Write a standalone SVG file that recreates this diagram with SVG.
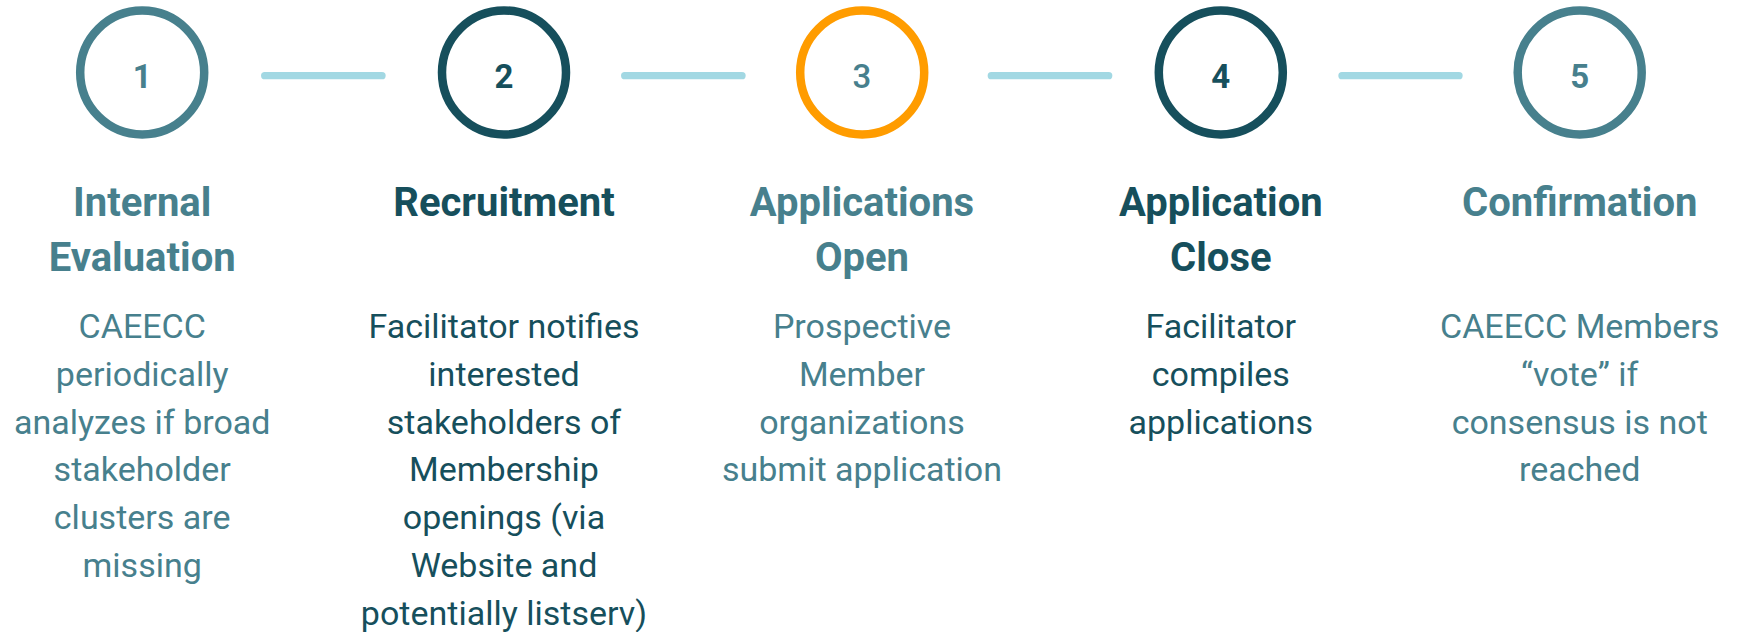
<svg xmlns="http://www.w3.org/2000/svg" width="1740" height="632" viewBox="0 0 1740 632">
<style>
.ring{fill:none;stroke-width:8.5}
.teal{fill:#47808D}
.dark{fill:#164F5C}
.num{font-family:Roboto,"Liberation Sans",sans-serif;font-weight:700;font-size:33px;text-anchor:middle}
.title{font-family:Roboto,"Liberation Sans",sans-serif;font-weight:700;font-size:40px;text-anchor:middle}
.body{font-family:Roboto,"Liberation Sans",sans-serif;font-weight:400;font-size:34px;text-anchor:middle}
.conn{stroke:#A2D8E3;stroke-width:7.3;stroke-linecap:round}
</style>
<rect width="1740" height="632" fill="#FFFFFF"/>
<g id="connectors">
<line class="conn" x1="264.7" y1="75.7" x2="382" y2="75.7"/>
<line class="conn" x1="624.7" y1="75.7" x2="742" y2="75.7"/>
<line class="conn" x1="991.3" y1="75.7" x2="1108.7" y2="75.7"/>
<line class="conn" x1="1342" y1="75.7" x2="1459" y2="75.7"/>
</g>
<g id="step1">
<circle class="ring" cx="142.2" cy="72.5" r="62" stroke="#47808D"/>
<text class="num teal" x="142.2" y="88.3">1</text>
<text class="title teal" x="142.2" y="216">Internal</text>
<text class="title teal" x="142.2" y="271">Evaluation</text>
<text class="body teal" x="142.2" y="338.3">CAEECC</text>
<text class="body teal" x="142.2" y="386">periodically</text>
<text class="body teal" x="142.2" y="433.7">analyzes if broad</text>
<text class="body teal" x="142.2" y="481.4">stakeholder</text>
<text class="body teal" x="142.2" y="529.1">clusters are</text>
<text class="body teal" x="142.2" y="576.8">missing</text>
</g>
<g id="step2">
<circle class="ring" cx="504" cy="72.5" r="62" stroke="#164F5C"/>
<text class="num dark" x="504" y="88.3">2</text>
<text class="title dark" x="504" y="216">Recruitment</text>
<text class="body dark" x="504" y="338.3">Facilitator notifies</text>
<text class="body dark" x="504" y="386">interested</text>
<text class="body dark" x="504" y="433.7">stakeholders of</text>
<text class="body dark" x="504" y="481.4">Membership</text>
<text class="body dark" x="504" y="529.1">openings (via</text>
<text class="body dark" x="504" y="576.8">Website and</text>
<text class="body dark" x="504" y="624.5">potentially listserv)</text>
</g>
<g id="step3">
<circle class="ring" cx="862.2" cy="72.5" r="62" stroke="#FF9C00"/>
<text class="num teal" x="862" y="88.3" style="font-weight:500">3</text>
<text class="title teal" x="862" y="216">Applications</text>
<text class="title teal" x="862" y="271">Open</text>
<text class="body teal" x="862" y="338.3">Prospective</text>
<text class="body teal" x="862" y="386">Member</text>
<text class="body teal" x="862" y="433.7">organizations</text>
<text class="body teal" x="862" y="481.4">submit application</text>
</g>
<g id="step4">
<circle class="ring" cx="1220.8" cy="72.5" r="62" stroke="#164F5C"/>
<text class="num dark" x="1220.8" y="88.3">4</text>
<text class="title dark" x="1220.8" y="216">Application</text>
<text class="title dark" x="1220.8" y="271">Close</text>
<text class="body dark" x="1220.8" y="338.3">Facilitator</text>
<text class="body dark" x="1220.8" y="386">compiles</text>
<text class="body dark" x="1220.8" y="433.7">applications</text>
</g>
<g id="step5">
<circle class="ring" cx="1579.7" cy="72.5" r="62" stroke="#47808D"/>
<text class="num teal" x="1579.7" y="88.3">5</text>
<text class="title teal" x="1579.7" y="216">Confirmation</text>
<text class="body teal" x="1579.7" y="338.3">CAEECC Members</text>
<text class="body teal" x="1579.7" y="386">“vote” if</text>
<text class="body teal" x="1579.7" y="433.7">consensus is not</text>
<text class="body teal" x="1579.7" y="481.4">reached</text>
</g>
</svg>
